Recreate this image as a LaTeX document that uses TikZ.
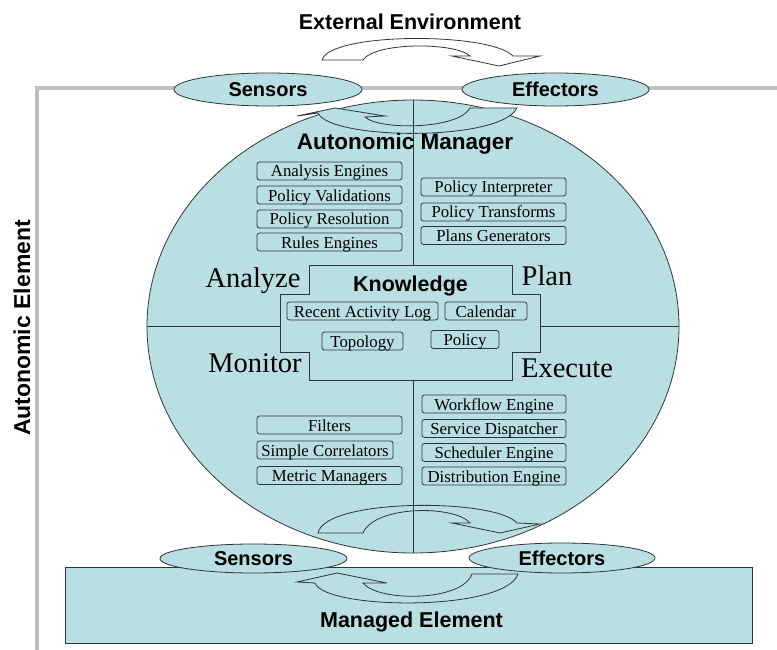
\documentclass[tikz,border=0pt]{standalone}
\usepackage{fontspec}
\setmainfont{Liberation Serif}
\setsansfont{Liberation Sans}
\usetikzlibrary{shapes.geometric}
\definecolor{amblue}{RGB}{185,223,227}
\definecolor{edgec}{RGB}{45,55,58}
\definecolor{brk}{RGB}{192,192,192}
\newcommand\sfsz[1]{\fontsize{#1}{#1}\selectfont\sffamily\bfseries}
\newcommand\rmsz[1]{\fontsize{#1}{#1}\selectfont\rmfamily}
\tikzset{
  outl/.style={draw=edgec, line width=0.8pt},
  ell/.style={ellipse, outl, fill=amblue, inner sep=0, font=\sfsz{20}},
  sbox/.style={outl, fill=amblue, rounded corners=2.5pt, minimum height=18pt,
    minimum width=#1, inner sep=0, text height=12pt, text depth=0pt, font=\rmsz{16.8}},
  phase/.style={anchor=base, inner sep=0, font=\rmsz{28.5}},
  title/.style={anchor=base, inner sep=0, font=\sfsz{#1}},
  blockarrow/.style={outl, fill=amblue, line join=miter}
}
\begin{document}
\begin{tikzpicture}[x=1pt,y=-1pt]
\useasboundingbox (0,0) rectangle (777,650);
% Autonomic element bracket
\coordinate (bb) at (37,650);
\coordinate (bc) at (37,88);
\coordinate (be) at (777,88);
\draw[brk, line width=4pt] (bb) -- (bc) -- (be);
\node[rotate=90, inner sep=0, font=\sfsz{23}] (ae) at (22,328) {Autonomic Element};

% Autonomic manager circle
\node[ellipse, outl, fill=amblue, minimum width=532pt, minimum height=453pt, inner sep=0] (am) at (413,326.5) {};

% loop arrows inside the manager
\draw[blockarrow] (318,533) .. controls (325,498) and (495,498) .. (517,523) -- (540,524) -- (500,533) -- (452,523) -- (470,523) .. controls (455,505) and (375,505) .. (363,533) -- cycle;
\draw[blockarrow] (297,116) -- (335,108) -- (385,116) -- (365,117) .. controls (378,130) and (458,130) .. (470,108) -- (517,108) .. controls (500,142) and (330,140) .. (318,113) -- cycle;

% quadrant dividers
\draw[outl] (am.north) -- (am.south);
\draw[outl] (am.west) -- (am.east);

% knowledge cross
\draw[outl, fill=amblue] (309,265) -- (512,265) -- (512,294) -- (540,294) -- (540,352) -- (512,352) -- (512,380) -- (309,380) -- (309,352) -- (280,352) -- (280,294) -- (309,294) -- cycle;
\node[title=21.5] (kn) at (410.5,291.5) {Knowledge};
\node[sbox=151pt] (ral) at (362.5,311) {Recent Activity Log};
\node[sbox=82pt] (cal) at (486,311) {Calendar};
\node[sbox=81pt] (top) at (362.5,341) {Topology};
\node[sbox=68pt] (pol) at (465,339.5) {Policy};

% phase labels
\node[phase] (an) at (253,287) {Analyze};
\node[phase] (pl) at (547,285) {Plan};
\node[phase] (mo) at (255,372) {Monitor};
\node[phase] (ex) at (567,377) {Execute};

\node[title=22.5] (amt) at (405,150) {Autonomic Manager};

% analyze boxes
\node[sbox=145pt] (a1) at (329.5,171) {Analysis Engines};
\node[sbox=145pt] (a2) at (329.5,195) {Policy Validations};
\node[sbox=145pt] (a3) at (329.5,219) {Policy Resolution};
\node[sbox=145pt] (a4) at (329.5,242) {Rules Engines};
% plan boxes
\node[sbox=145pt] (p1) at (493.5,187) {Policy Interpreter};
\node[sbox=145pt] (p2) at (493.5,212) {Policy Transforms};
\node[sbox=145pt] (p3) at (493.5,235.5) {Plans Generators};
% monitor boxes
\node[sbox=145pt] (m1) at (329.5,425) {Filters};
\node[sbox=136pt] (m2) at (325,450) {Simple Correlators};
\node[sbox=145pt] (m3) at (329.5,475.5) {Metric Managers};
% execute boxes
\node[sbox=144pt] (e1) at (494,404) {Workflow Engine};
\node[sbox=144pt] (e2) at (494,428.5) {Service Dispatcher};
\node[sbox=144pt] (e3) at (494,452.5) {Scheduler Engine};
\node[sbox=144pt] (e4) at (494,476) {Distribution Engine};

% top sensors / effectors
\node[ell, minimum width=188pt, minimum height=33pt] (s1) at (268,89.5) {Sensors};
\node[ell, minimum width=187pt, minimum height=33pt] (f1) at (555.5,89.5) {Effectors};

% external environment
\node[title=21.5] (ext) at (410,30) {External Environment};
\draw[outl, fill=white, line join=miter] (322,60) .. controls (330,32) and (490,32) .. (513,56) -- (540,56) -- (499,66) -- (452,56) -- (470,56) .. controls (455,42) and (375,42) .. (363,60) -- cycle;

% managed element
\node[outl, fill=amblue, minimum width=687pt, minimum height=76pt, inner sep=0] (me) at (408.5,605) {};
\node[ell, minimum width=187pt, minimum height=29pt] (s2) at (253.5,558.5) {Sensors};
\node[ell, minimum width=186pt, minimum height=30pt] (f2) at (562,558) {Effectors};
\draw[blockarrow] (297,582) -- (337,573) -- (387,583) -- (363,583) .. controls (378,602) and (462,602) .. (472,574) -- (518,574) .. controls (505,612) and (325,610) .. (315,583) -- cycle;
\node[title=21.5] (met) at (411.5,627) {Managed Element};
\end{tikzpicture}
\end{document}
